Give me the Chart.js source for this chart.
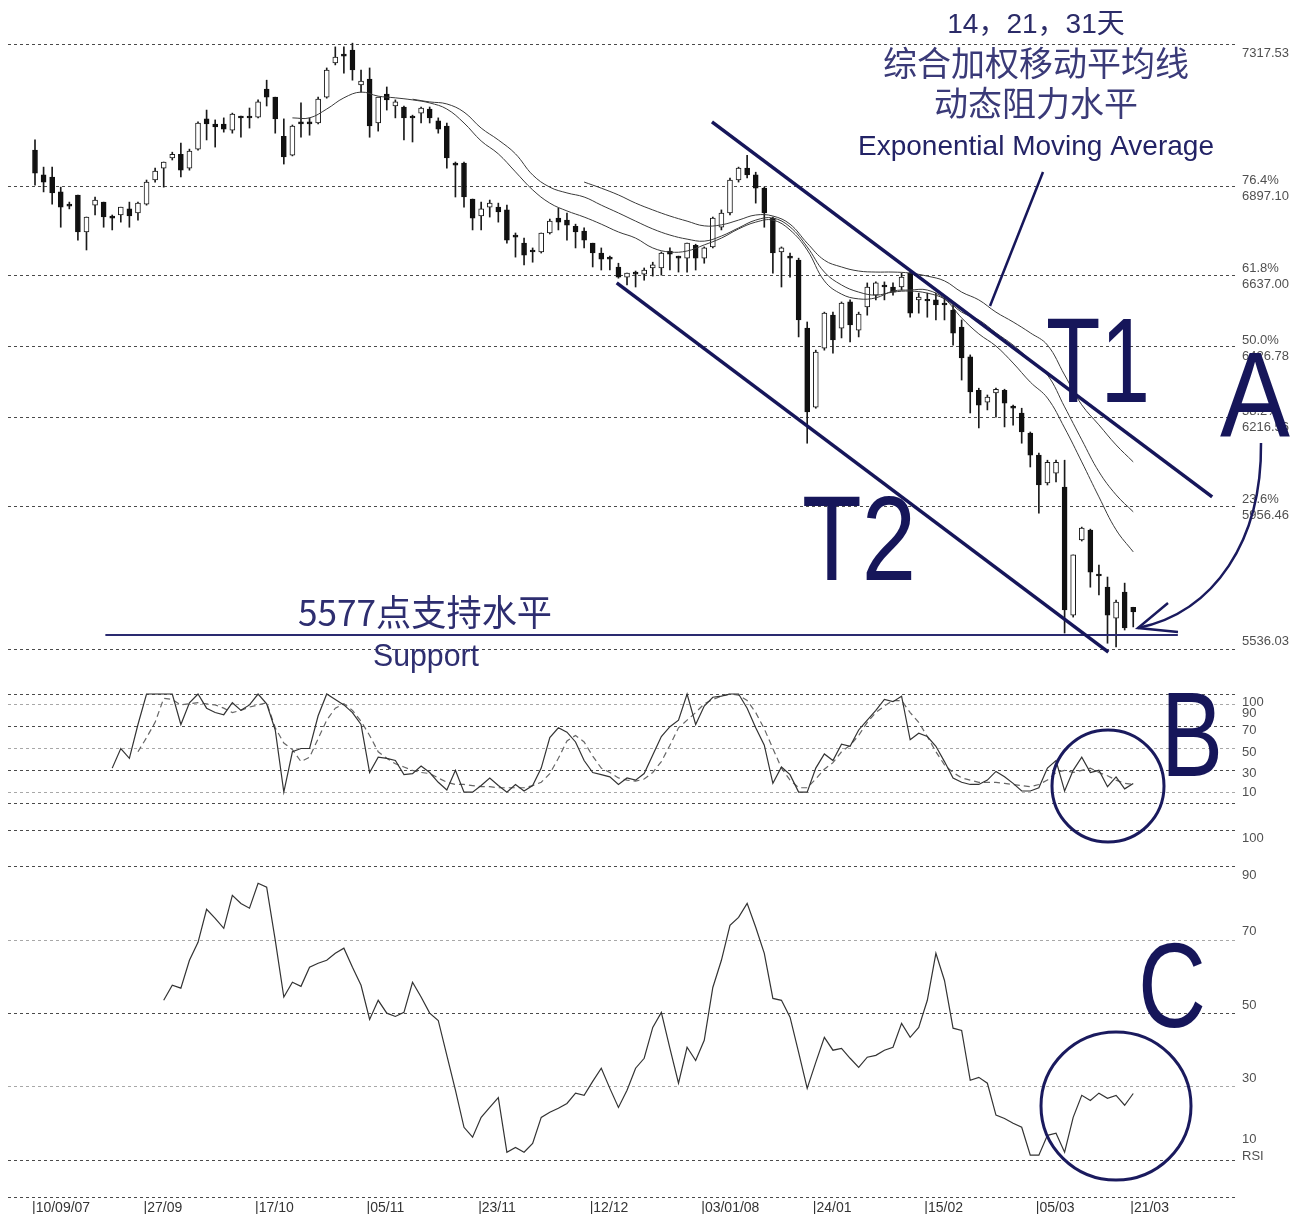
<!DOCTYPE html>
<html>
<head>
<meta charset="utf-8">
<script src="https://cdn.jsdelivr.net/npm/chart.js@4.4.1/dist/chart.umd.min.js"></script>
<style>
  html, body { margin: 0; padding: 0; background: #fff; }
  #wrap { width: 1303px; height: 1214px; position: relative; }
</style>
</head>
<body>
<div id="wrap"><canvas id="chart" width="1303" height="1214"></canvas></div>
<script>
// one bar per trading day, 10/09/07 .. 21/03/08 (index 0..128)
const openP = [
  7005,6932,6926,6882,6846,6873,6764,6843,6852,6811,
  6814,6832,6820,6846,6917,6952,6982,6993,6952,7008,
  7097,7082,7082,7064,7105,7105,7102,7185,7161,7046,
  6990,7088,7088,7085,7161,7262,7288,7300,7197,7214,
  7085,7170,7135,7132,7105,7114,7126,7091,7076,6967,
  6967,6861,6811,6837,6837,6829,6755,6731,6711,6705,
  6761,6805,6799,6781,6767,6731,6702,6690,6661,6631,
  6646,6640,6658,6658,6708,6693,6687,6725,6687,6720,
  6778,6820,6917,6952,6932,6893,6805,6705,6693,6681,
  6481,6248,6422,6519,6481,6558,6475,6543,6578,6608,
  6602,6602,6643,6564,6566,6564,6555,6534,6484,6396,
  6298,6263,6290,6298,6251,6231,6172,6107,6025,6054,
  6013,5636,5857,5886,5757,5718,5627,5704,5659
];
const highP = [
  7035,6955,6955,6896,6852,6873,6808,6867,6852,6814,
  6837,6852,6852,6917,6952,6970,6999,7026,7008,7088,
  7123,7094,7100,7114,7105,7129,7153,7211,7161,7097,
  7079,7144,7100,7161,7247,7309,7309,7320,7241,7247,
  7161,7191,7153,7135,7108,7132,7132,7100,7085,6970,
  6970,6861,6852,6858,6849,6843,6761,6746,6717,6761,
  6802,6834,6820,6787,6776,6731,6717,6693,6672,6643,
  6649,6658,6675,6705,6717,6693,6731,6728,6720,6808,
  6829,6923,6955,6990,6940,6896,6808,6720,6702,6687,
  6499,6416,6528,6528,6558,6564,6528,6614,6617,6617,
  6614,6643,6646,6584,6584,6584,6569,6549,6505,6402,
  6304,6284,6304,6301,6254,6245,6175,6113,6092,6092,
  6092,5813,5895,5889,5783,5748,5680,5730,5659
];
const lowP = [
  6902,6882,6846,6778,6832,6740,6711,6814,6778,6770,
  6793,6778,6799,6843,6911,6896,6976,6926,6946,7005,
  7035,7014,7058,7055,7043,7070,7100,7135,7055,6964,
  6988,7043,7049,7082,7158,7256,7232,7211,7176,7043,
  7061,7123,7100,7035,7029,7085,7085,7055,6952,6867,
  6837,6770,6770,6808,6793,6731,6690,6667,6675,6702,
  6758,6770,6740,6717,6717,6661,6652,6652,6628,6608,
  6602,6622,6634,6637,6652,6646,6646,6652,6672,6717,
  6770,6814,6911,6923,6849,6778,6643,6602,6631,6455,
  6142,6245,6416,6407,6452,6440,6455,6519,6564,6564,
  6578,6593,6513,6525,6513,6505,6505,6431,6328,6231,
  6187,6240,6219,6190,6195,6142,6072,5936,6019,6028,
  5583,5630,5854,5718,5695,5553,5542,5592,5601
];
const closeP = [
  6937,6911,6879,6837,6840,6764,6808,6858,6808,6805,
  6837,6811,6849,6911,6943,6970,6993,6946,7002,7085,
  7082,7073,7067,7111,7100,7100,7147,7161,7097,6985,
  7076,7082,7082,7155,7241,7279,7282,7241,7208,7076,
  7161,7153,7147,7100,7100,7129,7100,7067,6982,6961,
  6867,6805,6832,6849,6823,6740,6749,6696,6705,6761,
  6796,6793,6784,6764,6740,6702,6684,6684,6631,6643,
  6640,6652,6667,6702,6699,6687,6731,6687,6717,6805,
  6820,6917,6952,6932,6893,6820,6702,6717,6687,6505,
  6234,6410,6525,6446,6555,6490,6522,6602,6614,6602,
  6587,6631,6525,6572,6561,6549,6549,6466,6393,6293,
  6254,6278,6301,6260,6245,6175,6107,6019,6086,6086,
  5651,5813,5892,5762,5751,5636,5674,5598,5645
];

// 14 / 21 / 31 day exponential moving averages, read every 2nd bar
const emaStep = 2;
const ema14Start = 30;
const ema14 = [7100,7100,7126,7159,7176,7164,7159,7153,7144,7126,7085,7032,6994,6941,6888,6849,6826,6808,6787,6764,
  6746,6717,6705,6708,6726,6746,6773,6793,6799,6770,6711,6620,6581,6567,6570,6590,6593,6593,6567,6511,
  6464,6428,6378,6322,6275,6187,6087,5984,5887,5822];
const ema21Start = 44;
const ema21 = [7155,7147,7141,7117,7070,7035,6994,6932,6896,6879,6867,6843,6820,6796,6773,6755,6743,6737,6752,6776,
  6799,6805,6779,6720,6646,6608,6587,6578,6587,6590,6584,6567,6528,6505,6467,6431,6387,6343,6249,6152,
  6058,5990,5940];
const ema31Start = 64;
const ema31 = [6911,6893,6873,6849,6829,6811,6796,6782,6785,6799,6814,6811,6787,6731,6681,6661,6649,6646,6646,6643,
  6634,6620,6587,6564,6528,6499,6467,6431,6343,6255,6196,6137,6087];

// Fibonacci retracement levels
const fibLevels = [7317.53, 6897.10, 6637.00, 6426.78, 6216.56, 5956.46, 5536.03];
const fibPct = ['', '76.4%', '61.8%', '50.0%', '38.2%', '23.6%', ''];

// support and trend lines (bar index, price)
const supportLevel = 5577;
const supportIdx = [8.2, 133.2];
const t1Idx = [78.9, 137.2];
const t1Val = [7088, 5984];
const t2Idx = [67.8, 125.1];
const t2Val = [6614, 5527];

// stochastic %K / %D
const stochKStart = 9;
const stochK = [32,50,41,72,100,100,100,100,72,92,
  100,87,83,81,92,85,90,100,91,67,
  10,47,50,50,80,100,95,90,83,72,
  28,42,41,39,26,27,34,28,19,12,
  30,10,10,16,23,16,10,17,11,16,
  32,60,69,65,56,39,28,26,24,17,
  23,21,27,44,61,70,76,100,72,89,
  97,98,100,100,87,69,53,18,33,26,
  10,10,32,45,39,54,52,67,76,85,
  95,93,98,58,64,61,52,38,23,19,
  17,17,21,29,24,18,11,11,14,32,
  39,11,30,42,28,30,15,24,13,18];
const stochDStart = 12;
const stochD = [47,60,74,96,95,90,91,92,91,90,
  87,83,85,88,90,92,69,55,49,38,
  42,59,76,87,91,85,75,62,47,41,
  36,33,30,28,27,23,19,17,17,16,
  15,15,14,14,14,14,16,19,27,41,
  57,62,56,43,32,28,23,21,20,22,
  28,38,53,69,76,83,91,95,98,100,
  99,94,83,68,50,32,21,14,14,22,
  31,37,47,53,62,74,83,89,94,94,
  83,74,61,47,35,28,23,21,19,19,
  19,18,17,16,15,17,21,28,30,28,
  30,32,28,25,21,18,17];

// RSI
const rsiStart = 15;
const rsi = [53.6,57.7,56.9,64.5,69.4,78.4,75.9,73.2,82.2,80,
  78.7,85.5,84.4,70,54.5,58.5,57.4,62.6,63.7,64.5,
  66.4,67.8,62.6,57.7,48.4,53.6,50.1,49.2,50.3,58.5,
  54.5,50.1,48.1,38.6,29.1,19,16.3,21.7,24.4,27.1,
  12.2,13.5,12.2,14.6,21.7,23.1,24.2,25.5,28.3,27.7,
  31.5,35.1,29.6,24.4,29.1,35.1,37.8,46.2,50.3,40.5,
  31,40.8,37.2,42.7,57.1,64.5,74,76.2,80,73.5,
  66.4,54.1,53.6,49,39.4,29.6,36.7,43.5,40,40.5,
  37.8,35.3,38.1,38.6,40,40.8,47.3,43.5,46.2,53.6,
  66.4,59,46,45.4,31.8,32.6,31,22.3,21.4,20.1,
  19,11.4,11.4,16.8,17.4,12.2,21.7,27.7,26.3,28.3,
  26.9,27.7,25,28.2];

const stochLevels = [100, 90, 70, 50, 30, 10, 0];
const rsiLevels = [100, 90, 70, 50, 30, 10, 0];

const dateIdx = [0, 13, 26, 39, 52, 65, 78, 91, 104, 117, 128];
const dateLabels = ['10/09/07', '27/09', '17/10', '05/11', '23/11', '12/12', '03/01/08', '24/01', '15/02', '05/03', '21/03'];

// ---------------------------------------------------------------
const NAVY = '#16165a';
const NARROW = '"Liberation Sans Narrow", "Arial Narrow", "Liberation Sans", sans-serif';
const SANS = '"Liberation Sans", Arial, "Noto Sans CJK SC", sans-serif';
const CJK = '"Liberation Sans", "Noto Sans CJK SC", sans-serif';

const seq = (start, arr, step = 1) => arr.map((v, k) => ({ x: start + k * step, y: v }));

const wicks = [], upBodies = [], downBodies = [];
openP.forEach((o, i) => {
  const c = closeP[i];
  wicks.push({ x: i, y: [lowP[i], highP[i]] });
  const body = { x: i, y: [Math.min(o, c), Math.max(o, c)] };
  if (c > o) upBodies.push(body); else downBodies.push(body);
});

function gridAxis(min, max, levels, colorFn) {
  return {
    type: 'linear', position: 'left', min, max,
    ticks: { display: false },
    grid: { drawTicks: false, color: colorFn, lineWidth: 1 },
    border: { display: false, dash: [3, 3] },
    afterBuildTicks: axis => { axis.ticks = levels.map(v => ({ value: v })); }
  };
}

function txt(ctx, s, x, y, font, color, align, maxW) {
  ctx.font = font;
  ctx.fillStyle = color;
  ctx.textAlign = align || 'left';
  ctx.textBaseline = 'alphabetic';
  if (maxW) ctx.fillText(s, x, y, maxW); else ctx.fillText(s, x, y);
}

const labelPlugin = {
  id: 'labels',
  afterDatasetsDraw(chart) {
    const ctx = chart.ctx;
    const { x, yP, ys, yr } = chart.scales;
    ctx.save();
    const small = '13px ' + NARROW;
    const grey = '#505050';
    const rx = 1242;

    // fibonacci labels
    fibLevels.forEach((v, k) => {
      const py = yP.getPixelForValue(v);
      const val = v.toFixed(2);
      if (fibPct[k]) {
        txt(ctx, fibPct[k], rx, py - 3, small, grey, 'left', 40);
        txt(ctx, val, rx, py + 13, small, grey, 'left', 50);
      } else if (k === 0) {
        txt(ctx, val, rx, py + 13, small, grey, 'left', 50);
      } else {
        txt(ctx, val, rx, py - 4, small, grey, 'left', 50);
      }
    });

    // oscillator labels
    const stochOff = { 100: 12, 90: 12, 70: 7, 50: 7, 30: 7, 10: 4 };
    Object.keys(stochOff).forEach(v => {
      txt(ctx, String(v), rx, ys.getPixelForValue(+v) + stochOff[v], small, grey, 'left', 24);
    });
    const rsiOff = { 100: 12, 90: 12, 70: -5, 50: -5, 30: -5, 10: -17 };
    Object.keys(rsiOff).forEach(v => {
      txt(ctx, String(v), rx, yr.getPixelForValue(+v) + rsiOff[v], small, grey, 'left', 24);
    });
    txt(ctx, 'RSI', rx, yr.getPixelForValue(10) + 0, small, grey, 'left', 24);

    // date labels
    dateIdx.forEach((idx, k) => {
      txt(ctx, '|' + dateLabels[k], x.getPixelForValue(idx) - 3, 1212, '14px ' + NARROW, '#333', 'left', 64);
    });

    // EMA caption
    txt(ctx, '14，21，31天', 1036, 33, '28px ' + CJK, '#2b2b68', 'center', 198);
    txt(ctx, '综合加权移动平均线', 1036, 76, '34px "Noto Sans CJK SC", sans-serif', '#3a3a78', 'center', 310);
    txt(ctx, '动态阻力水平', 1036, 116, '34px "Noto Sans CJK SC", sans-serif', '#3a3a78', 'center', 206);
    txt(ctx, 'Exponential Moving Average', 1036, 155, '28px ' + SANS, '#232366', 'center', 358);

    ctx.strokeStyle = NAVY;
    ctx.lineWidth = 2.5;
    ctx.beginPath();
    ctx.moveTo(1043, 172);
    ctx.lineTo(990, 306);
    ctx.stroke();

    // support caption
    txt(ctx, '5577点支持水平', 298, 626, '36px ' + '"Liberation Sans Narrow", "Noto Sans CJK SC", sans-serif', '#2e2e70', 'left', 254);
    txt(ctx, 'Support', 373, 666, '32px ' + NARROW, '#2e2e70', 'left', 106);

    // big letters
    const big = '121px ' + NARROW;
    txt(ctx, 'T1', 1046, 402, big, NAVY, 'left', 104);
    txt(ctx, 'T2', 802, 580, big, NAVY, 'left', 114);
    txt(ctx, 'A', 1220, 436, big, NAVY, 'left', 70);
    txt(ctx, 'B', 1161, 776, big, NAVY, 'left', 62);
    txt(ctx, 'C', 1138, 1027, big, NAVY, 'left', 68);

    // circles
    ctx.lineWidth = 3;
    ctx.strokeStyle = '#1a1a5e';
    ctx.beginPath();
    ctx.ellipse(1108, 786, 56, 56, 0, 0, Math.PI * 2);
    ctx.stroke();
    ctx.beginPath();
    ctx.ellipse(1116, 1106, 75, 74, 0, 0, Math.PI * 2);
    ctx.stroke();

    // curved arrow to A
    ctx.lineWidth = 2.5;
    ctx.beginPath();
    ctx.moveTo(1261, 443);
    ctx.bezierCurveTo(1262, 540, 1215, 612, 1138, 628);
    ctx.stroke();
    ctx.beginPath();
    ctx.moveTo(1168, 603);
    ctx.lineTo(1138, 628);
    ctx.lineTo(1178, 632);
    ctx.stroke();
    ctx.restore();
  }
};

const dark = '#4a4a4a', light = '#a8a8a8';

new Chart(document.getElementById('chart'), {
  type: 'bar',
  data: {
    datasets: [
      { type: 'bar', data: wicks, yAxisID: 'yP', backgroundColor: '#1a1a1a', borderWidth: 0,
        barThickness: 1, maxBarThickness: 1, grouped: false, order: 10 },
      { type: 'bar', data: upBodies, yAxisID: 'yP', backgroundColor: '#fff', borderColor: '#1a1a1a', borderWidth: 1,
        borderSkipped: false, barThickness: 5, maxBarThickness: 5, grouped: false, order: 5 },
      { type: 'bar', data: downBodies, yAxisID: 'yP', backgroundColor: '#111', borderColor: '#111', borderWidth: 1,
        borderSkipped: false, barThickness: 5, maxBarThickness: 5, grouped: false, order: 5 },
      { type: 'line', data: seq(ema14Start, ema14, emaStep), yAxisID: 'yP', borderColor: '#3a3a3a', borderWidth: 1,
        pointRadius: 0, tension: 0.4, order: 3 },
      { type: 'line', data: seq(ema21Start, ema21, emaStep), yAxisID: 'yP', borderColor: '#3a3a3a', borderWidth: 1,
        pointRadius: 0, tension: 0.4, order: 3 },
      { type: 'line', data: seq(ema31Start, ema31, emaStep), yAxisID: 'yP', borderColor: '#3a3a3a', borderWidth: 1,
        pointRadius: 0, tension: 0.4, order: 3 },
      { type: 'line', data: t1Idx.map((v, k) => ({ x: v, y: t1Val[k] })), yAxisID: 'yP',
        borderColor: NAVY, borderWidth: 3.5, pointRadius: 0, order: 1 },
      { type: 'line', data: t2Idx.map((v, k) => ({ x: v, y: t2Val[k] })), yAxisID: 'yP',
        borderColor: NAVY, borderWidth: 3.5, pointRadius: 0, order: 1 },
      { type: 'line', data: supportIdx.map(v => ({ x: v, y: supportLevel })), yAxisID: 'yP',
        borderColor: '#2a2a70', borderWidth: 2, pointRadius: 0, order: 1 },
      { type: 'line', data: seq(stochKStart, stochK), yAxisID: 'ys', borderColor: '#333', borderWidth: 1.2,
        pointRadius: 0, tension: 0, order: 2 },
      { type: 'line', data: seq(stochDStart, stochD), yAxisID: 'ys', borderColor: '#666', borderWidth: 1.2,
        borderDash: [6, 4], pointRadius: 0, tension: 0, order: 2 },
      { type: 'line', data: seq(rsiStart, rsi), yAxisID: 'yr', borderColor: '#333', borderWidth: 1.2,
        pointRadius: 0, tension: 0, order: 2 }
    ]
  },
  options: {
    responsive: false,
    animation: false,
    devicePixelRatio: 1,
    layout: { padding: { left: 8, right: 68, top: 0, bottom: 0 } },
    plugins: { legend: { display: false }, tooltip: { enabled: false } },
    scales: {
      x: { type: 'linear', min: -3.147, max: 139.86, offset: false, display: false },
      yP: gridAxis(3872.32, 7447.10, fibLevels, () => dark),
      ys: gridAxis(-377.06, 736.70, stochLevels,
        c => (c.tick && [90, 50, 10].includes(c.tick.value)) ? light : dark),
      yr: gridAxis(-4.63, 326.16, rsiLevels,
        c => (c.tick && [70, 30].includes(c.tick.value)) ? light : dark)
    }
  },
  plugins: [labelPlugin]
});
</script>
</body>
</html>
